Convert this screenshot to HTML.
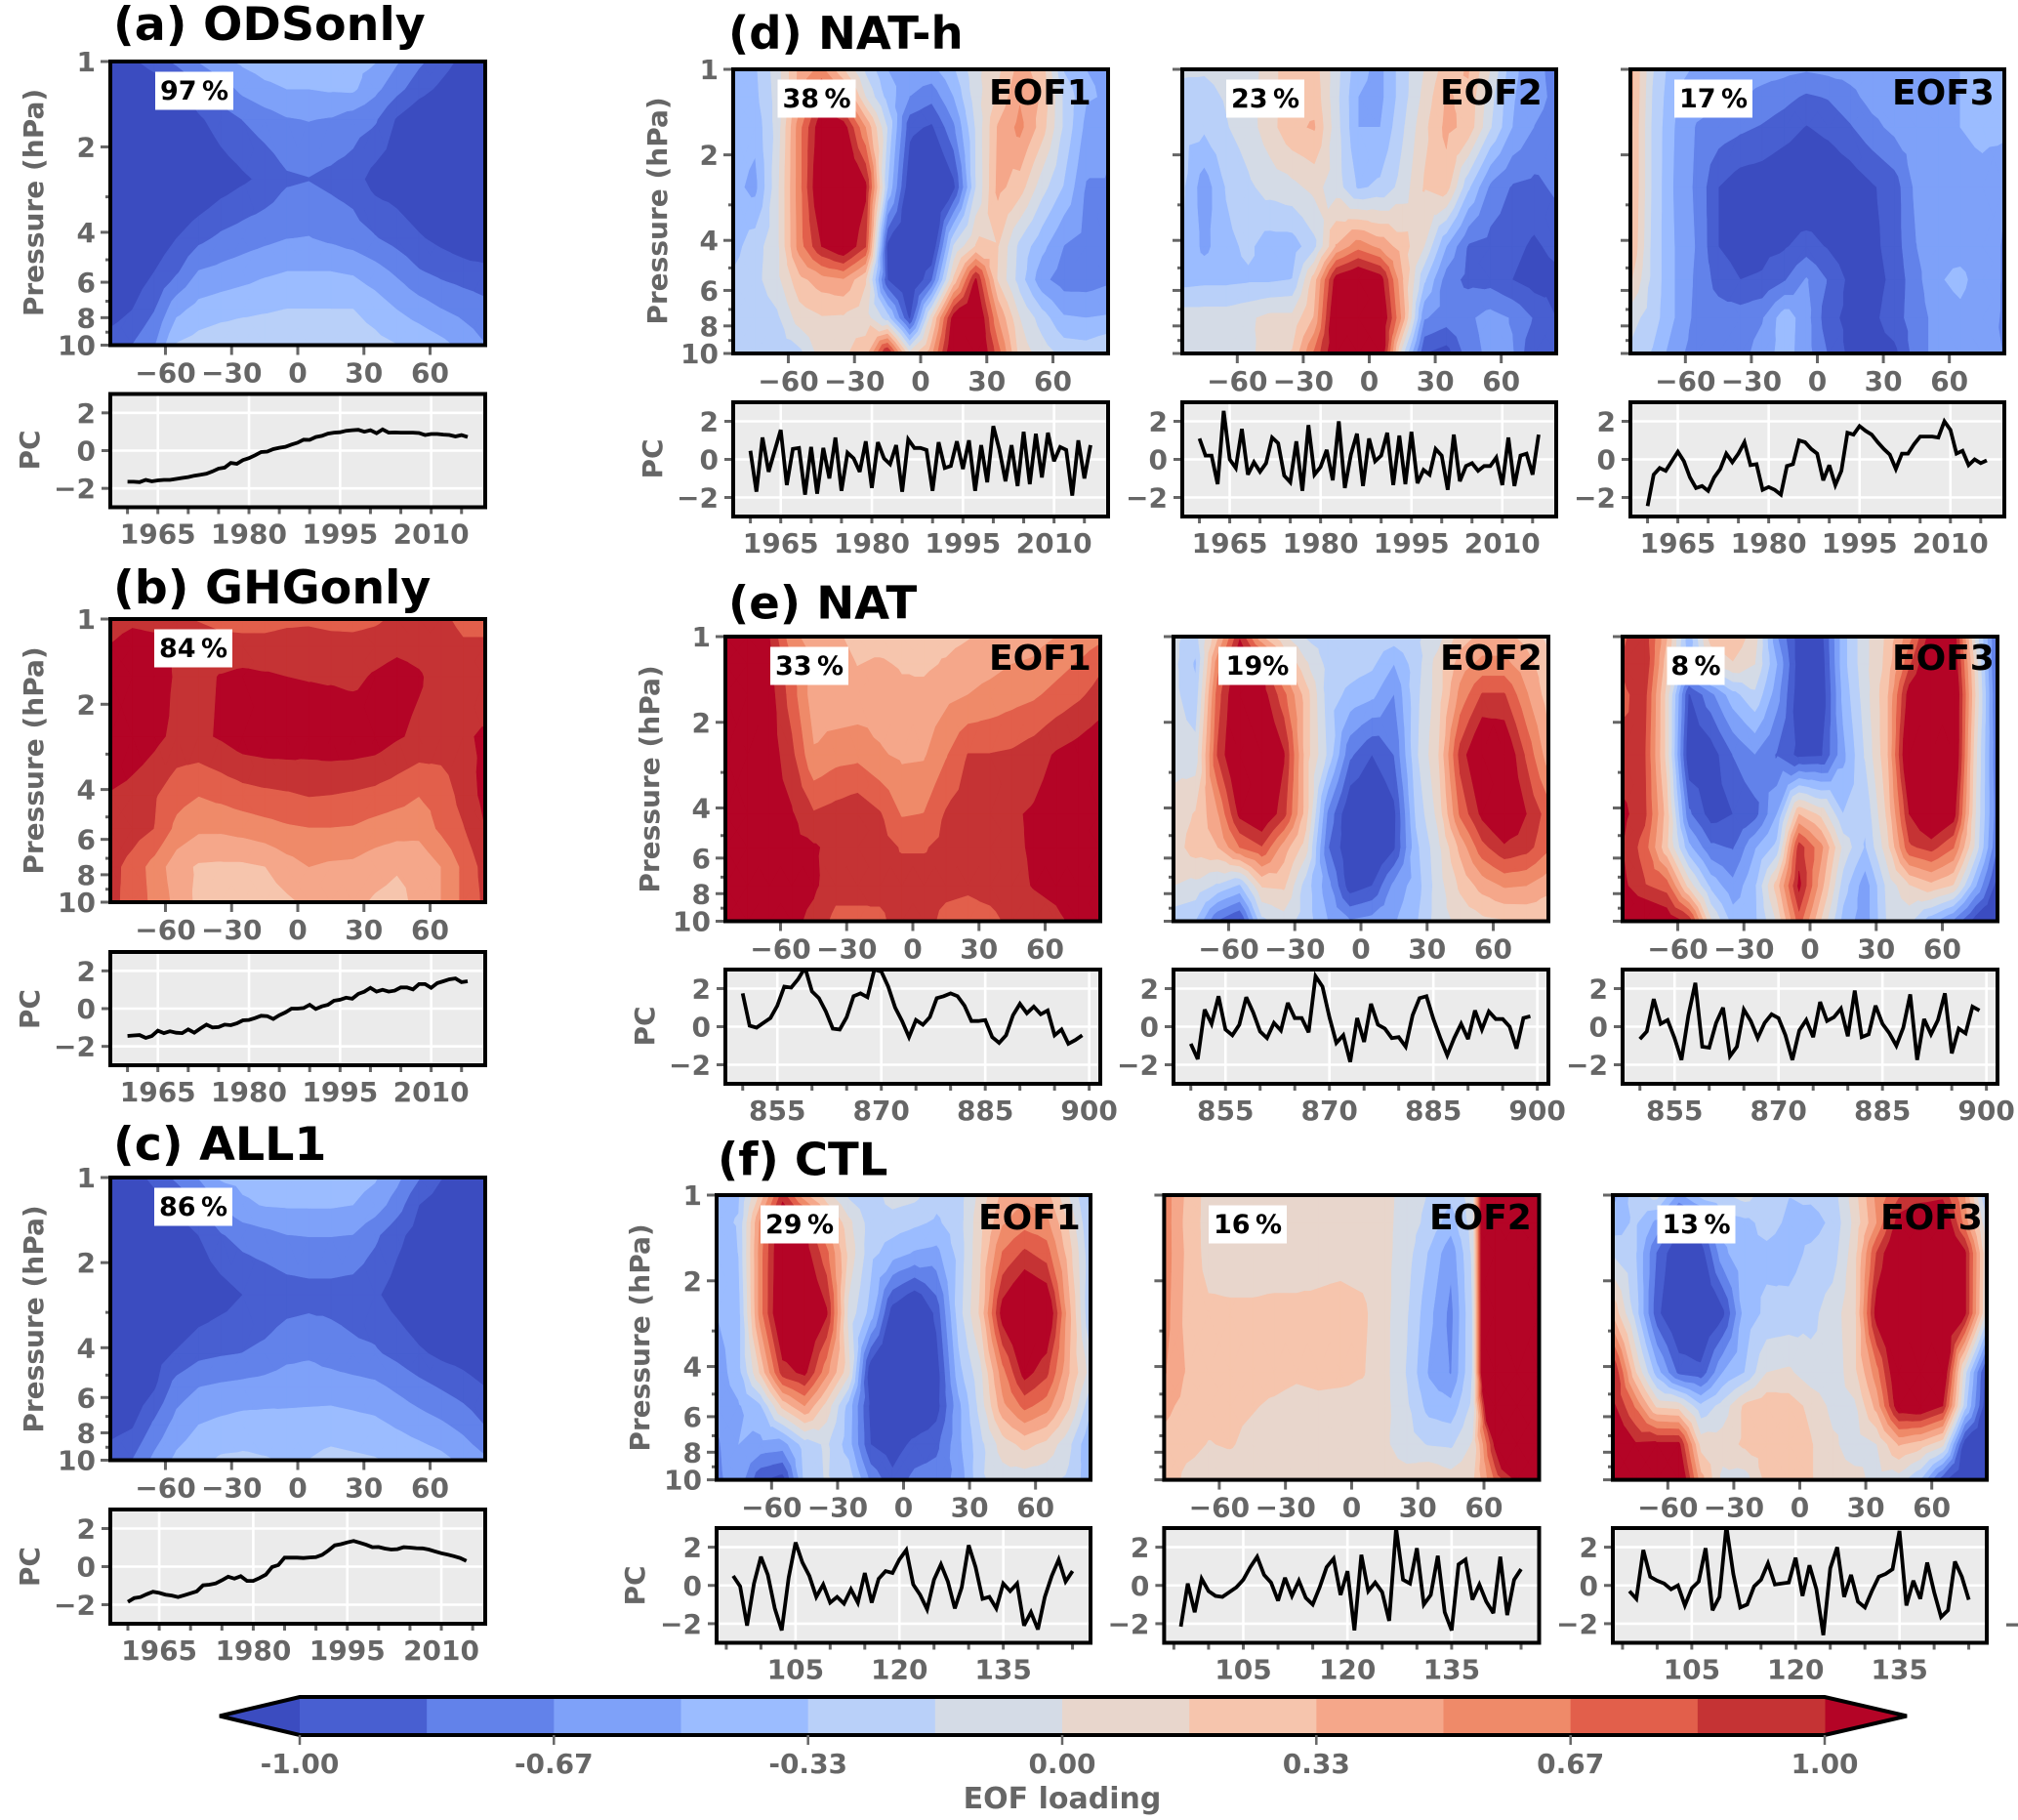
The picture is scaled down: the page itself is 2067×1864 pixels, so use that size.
<!DOCTYPE html>
<html lang="en">
<head>
<meta charset="utf-8">
<title>EOF loading panels</title>
<style>
html,body{margin:0;padding:0;background:#fff;}
svg{display:block;font-family:"DejaVu Sans","Liberation Sans",sans-serif;font-weight:bold;}
</style>
</head>
<body>
<svg id="figure" xmlns="http://www.w3.org/2000/svg" width="2067" height="1864" viewBox="0 0 2067 1864"></svg>
<script>
// ---- grid axes of all loading fields ----
const latGrid = [-85,-75,-65,-55,-45,-35,-25,-15,-5,5,15,25,35,45,55,65,75,85];
const pressureGrid = [1,1.25,1.6,2.6,4.2,5.5,7.5,10];
const latTicks = [-60,-30,0,30,60];
const pressureTicks = [1,2,4,6,8,10];
const pressureMinorTicks = [3,5,7,9];
const pcTicks = [-2,0,2];
const modernYearTicks = [1965,1980,1995,2010];
const natYearTicks = [855,870,885,900];
const ctlYearTicks = [105,120,135];
const cbarTickValues = [-1,-0.6667,-0.3333,0,0.3333,0.6667,1];
const cbarTickLabels = ['-1.00','-0.67','-0.33','0.00','0.33','0.67','1.00'];

// ---- EOF loadings in hundredths, rows = pressureGrid, columns = latGrid ----
const eofA = [
[-115,-103,-92,-80,-66,-54,-47,-42,-40,-40,-41,-45,-49,-65,-80,-92,-105,-118],
[-125,-120,-112,-102,-88,-76,-62,-54,-50,-50,-48,-47,-62,-78,-93,-104,-115,-125],
[-130,-130,-125,-118,-103,-92,-83,-75,-68,-66,-68,-75,-81,-102,-115,-122,-128,-130],
[-135,-135,-132,-128,-120,-110,-103,-96,-86,-84,-88,-92,-107,-110,-118,-125,-130,-132],
[-135,-125,-112,-100,-88,-80,-75,-71,-67,-66,-70,-75,-82,-90,-98,-105,-112,-120],
[-130,-112,-100,-86,-66,-62,-58,-53,-50,-50,-50,-52,-60,-70,-82,-88,-92,-94],
[-110,-100,-84,-55,-44,-40,-37,-35,-33,-33,-33,-33,-40,-50,-58,-66,-72,-78],
[-90,-83,-68,-32,-26,-22,-21,-21,-21,-22,-22,-24,-28,-33,-38,-45,-55,-66]];
const eofB = [
[90,95,92,88,82,78,76,76,79,80,78,77,80,87,90,86,80,80],
[101,110,108,97,94,90,90,90,92,92,90,90,92,96,94,90,85,85],
[112,115,112,97,95,101,104,102,100,99,98,96,102,107,102,92,88,86],
[125,115,105,95,96,102,110,112,112,110,112,112,110,102,96,94,97,103],
[98,92,85,73,67,71,76,79,81,84,83,81,78,73,67,72,90,105],
[100,92,83,62,53,53,56,60,64,66,66,65,60,57,56,70,82,100],
[90,76,60,40,31,30,30,33,43,50,47,46,40,35,37,50,70,90],
[88,77,62,45,29,25,24,24,30,37,37,38,31,28,38,50,70,87]];
const eofC = [
[-118,-108,-95,-80,-66,-48,-45,-43,-42,-42,-42,-43,-48,-62,-82,-99,-108,-120],
[-125,-120,-108,-98,-83,-67,-53,-49,-48,-48,-48,-50,-58,-75,-100,-110,-118,-125],
[-130,-128,-120,-110,-100,-85,-77,-72,-67,-66,-66,-67,-80,-95,-108,-118,-125,-130],
[-135,-135,-132,-125,-115,-108,-100,-97,-92,-90,-90,-92,-97,-108,-118,-125,-130,-133],
[-135,-122,-108,-98,-88,-85,-83,-79,-71,-69,-74,-79,-81,-88,-97,-104,-108,-115],
[-130,-115,-102,-76,-67,-64,-62,-60,-58,-58,-58,-60,-63,-70,-78,-85,-92,-100],
[-108,-102,-80,-60,-50,-46,-43,-43,-44,-43,-42,-44,-46,-52,-58,-64,-72,-84],
[-90,-83,-62,-46,-38,-31,-30,-32,-35,-33,-28,-30,-32,-36,-40,-45,-54,-64]];
const eofD1 = [
[-45,-36,-8,38,55,18,-20,-50,-55,-55,-36,-5,12,40,25,-35,-50,-52],
[-38,-38,-10,40,90,60,0,-40,-67,-78,-50,-8,20,48,30,-20,-48,-52],
[-40,-45,-10,60,115,110,50,-18,-95,-103,-70,-15,35,55,25,-20,-55,-64],
[-45,-55,-5,60,125,130,105,-33,-115,-135,-105,-17,38,25,-10,-35,-68,-68],
[-40,-24,-5,58,100,120,85,-105,-125,-120,-15,18,17,-22,-45,-67,-72,-68],
[-30,-22,-5,28,42,48,18,-100,-125,-85,20,103,15,-25,-62,-75,-75,-70],
[-28,-28,-20,8,15,14,8,-25,-103,10,110,130,50,0,-25,-48,-50,-48],
[-28,-28,-26,-22,8,14,25,105,5,45,125,130,75,10,-8,-22,-24,-15]];
const eofD2 = [
[-15,-15,-12,-10,10,28,25,-10,-45,-55,-25,0,25,35,0,-45,-62,-72],
[-20,-22,-15,-5,8,30,28,-12,-50,-55,-25,5,35,30,-10,-48,-62,-70],
[-28,-30,-18,-8,10,30,35,-10,-50,-50,-20,12,38,28,-15,-50,-67,-72],
[-30,-60,-32,-20,-10,-5,5,-8,-36,-30,-10,18,25,-30,-70,-85,-88,-80],
[-33,-55,-38,-30,-42,-42,-22,35,60,45,25,0,-50,-85,-90,-95,-103,-95],
[-40,-38,-38,-36,-36,-33,25,110,125,110,35,-30,-75,-88,-90,-100,-108,-105],
[-8,-8,-8,-3,5,5,35,125,130,125,45,-65,-75,-70,-60,-68,-85,-100],
[-10,-8,-8,-5,10,18,70,120,130,125,-10,-100,-108,-75,-62,-65,-100,-90]];
const eofD3 = [
[40,-15,-45,-52,-56,-58,-60,-62,-65,-62,-60,-56,-54,-52,-50,-50,-45,-42],
[40,-18,-48,-60,-62,-65,-72,-78,-86,-82,-72,-60,-56,-54,-52,-50,-45,-43],
[38,-20,-50,-68,-74,-80,-85,-92,-101,-95,-85,-72,-62,-56,-52,-50,-44,-45],
[38,-20,-52,-70,-100,-110,-112,-118,-122,-118,-112,-102,-92,-62,-60,-60,-58,-66],
[35,-22,-50,-68,-100,-108,-105,-102,-92,-102,-112,-105,-92,-67,-55,-58,-60,-68],
[20,-22,-50,-70,-90,-100,-98,-85,-65,-85,-105,-108,-95,-72,-52,-45,-60,-68],
[-10,-25,-50,-72,-75,-75,-68,-40,-60,-95,-105,-105,-90,-75,-60,-55,-62,-68],
[-20,-35,-60,-75,-75,-72,-60,-42,-60,-85,-105,-108,-105,-75,-60,-60,-65,-67]];
const eofE1 = [
[130,120,100,55,42,35,30,28,28,30,28,32,40,42,45,50,55,62],
[130,120,105,70,45,38,33,35,32,30,35,42,45,50,52,60,68,80],
[130,122,108,75,40,36,38,42,36,38,45,50,55,60,64,72,80,90],
[130,125,110,88,52,60,62,52,47,48,65,84,84,86,92,102,108,115],
[130,125,110,102,85,90,95,85,65,67,85,92,95,98,102,110,115,120],
[130,125,112,105,102,95,97,90,82,82,88,94,96,97,102,110,115,120],
[130,125,115,108,103,90,90,88,90,90,88,86,90,95,101,105,115,120],
[125,120,112,105,95,78,78,80,90,90,78,76,78,88,92,96,105,115]];
const eofE2 = [
[-12,-25,30,98,35,3,-18,-25,-18,-25,-25,-20,-8,25,38,38,28,12],
[-12,-36,60,120,105,38,3,-22,-25,-30,-50,-25,8,42,55,55,40,22],
[-12,-28,75,125,110,72,25,-25,-38,-46,-67,-22,8,55,85,85,52,25],
[-8,-10,85,130,130,102,25,-20,-80,-100,-83,-20,15,90,125,120,80,40],
[8,18,48,105,120,90,25,-70,-118,-125,-105,-30,5,70,105,125,100,75],
[8,25,33,67,82,42,8,-82,-115,-125,-103,-38,-5,38,78,97,90,70],
[0,-5,-20,-36,18,20,-25,-60,-110,-100,-62,-42,-8,20,40,52,50,38],
[-28,-34,-85,-105,-22,-8,-25,-50,-65,-60,-52,-36,-8,5,12,15,18,20]];
const eofE3 = [
[80,95,35,-45,25,30,8,-65,-110,-108,-40,-5,20,60,110,115,-5,-90],
[85,100,22,-40,0,15,0,-50,-110,-112,-40,-5,22,80,125,120,10,-95],
[80,90,10,-102,-72,-40,-20,-60,-112,-115,-45,-8,30,110,130,130,15,-90],
[88,85,10,-115,-110,-83,-67,-85,-105,-103,-55,-15,30,130,135,130,5,-85],
[105,88,25,-80,-108,-100,-90,-50,33,12,-33,-30,20,100,130,110,0,-80],
[100,75,20,-45,-80,-85,-52,-28,92,55,-5,-35,10,80,90,68,-5,-85],
[105,85,75,10,-38,-62,-36,25,105,40,-25,-60,-12,15,28,15,-48,-110],
[125,125,115,95,3,-40,-38,2,75,15,-40,-60,-15,-12,-45,-70,-110,-125]];
const eofF1 = [
[-38,-36,22,92,38,6,-20,-27,-8,-12,-28,-25,6,38,45,40,0,-40],
[-38,-32,55,125,105,45,5,-25,-25,-30,-36,-25,12,48,60,55,15,-35],
[-50,-33,60,125,110,72,12,-28,-42,-52,-55,-28,15,68,87,75,25,-30],
[-50,-40,60,130,130,103,-5,-40,-110,-130,-95,-25,20,110,135,125,40,-35],
[-60,-40,20,92,105,55,5,-115,-130,-130,-110,-40,-5,60,108,88,35,-8],
[-60,-52,-35,22,50,10,-40,-105,-125,-125,-108,-55,-10,45,72,58,20,-30],
[-70,-50,-55,-58,-25,-14,-42,-100,-110,-95,-88,-55,-22,8,22,12,-12,-50],
[-72,-55,-98,-108,-30,-15,-22,-70,-95,-78,-75,-62,-20,-8,-10,-12,-20,-45]];
const eofF2 = [
[60,30,10,8,8,8,8,8,8,8,6,-8,-18,-30,-8,300,320,320],
[60,28,10,8,10,10,10,10,10,8,5,-8,-22,-42,-8,300,320,320],
[60,30,10,10,10,10,10,12,12,10,5,-10,-35,-62,-12,300,320,320],
[58,28,20,19,19,20,20,20,22,20,5,-15,-45,-72,-15,300,320,320],
[52,32,28,25,23,23,20,22,22,18,5,-18,-52,-68,-15,300,320,320],
[38,28,22,20,18,14,10,12,10,10,5,-14,-40,-45,-12,200,240,240],
[28,22,16,18,12,8,8,8,10,16,3,-10,-18,-20,2,105,200,200],
[30,12,9,8,8,8,8,8,8,8,8,8,18,8,12,70,105,130]];
const eofF3 = [
[-55,-25,-10,-55,-28,-20,-10,-25,-33,-30,-25,10,55,80,90,95,50,-38],
[-45,-30,-55,-100,-85,-42,-38,-28,-36,-40,-30,5,50,110,125,125,60,-15],
[-18,-30,-85,-118,-110,-55,-36,-37,-40,-30,-25,10,85,130,135,135,105,0],
[30,-22,-95,-125,-125,-105,-42,-30,-28,-22,-8,12,110,135,135,135,105,-5],
[105,20,-42,-88,-95,-50,-33,0,3,-10,-12,12,60,125,135,125,-10,-110],
[105,65,12,8,-30,-10,20,28,25,12,-5,-3,40,115,120,100,-25,-115],
[125,103,105,105,10,8,20,24,32,18,3,-8,0,35,25,5,-110,-130],
[130,130,130,130,40,-5,-8,22,25,18,5,5,-5,-8,-35,-95,-125,-130]];

// ---- principal component series, one value per year ----
const pcA = [-1.65,-1.65,-1.67,-1.55,-1.63,-1.58,-1.55,-1.55,-1.5,-1.45,-1.4,-1.33,-1.28,-1.22,-1.1,-.95,-.9,-.65,-.7,-.5,-.4,-.25,-.08,-.05,.08,.15,.2,.32,.42,.58,.57,.72,.78,.9,.95,.97,1.05,1.08,1.1,1.0,1.08,.92,1.12,.95,.96,.95,.95,.95,.93,.82,.88,.88,.85,.83,.75,.82,.72];
const pcB = [-1.45,-1.42,-1.4,-1.55,-1.45,-1.17,-1.3,-1.2,-1.28,-1.3,-1.1,-1.28,-1.05,-.85,-1.0,-.98,-.85,-.88,-.78,-.62,-.6,-.5,-.38,-.4,-.55,-.35,-.2,0,0,.03,.2,-.02,.12,.2,.42,.47,.58,.52,.78,.9,1.1,.9,1.0,.9,.95,1.12,1.12,1.02,1.3,1.3,1.1,1.35,1.45,1.55,1.6,1.4,1.45];
const pcC = [-1.85,-1.65,-1.6,-1.45,-1.32,-1.38,-1.47,-1.52,-1.6,-1.5,-1.4,-1.3,-.98,-.95,-.88,-.72,-.53,-.63,-.5,-.75,-.75,-.6,-.42,-.02,.08,.47,.47,.47,.45,.48,.5,.62,.85,1.12,1.18,1.27,1.35,1.25,1.15,1.02,1.03,.95,.9,.92,1.02,1.0,.97,.96,.9,.8,.7,.63,.55,.45,.3];
const pcD1 = [.45,-1.7,1.15,-.65,.45,1.55,-1.35,.55,.6,-1.85,.65,-1.8,.6,-1.0,1.15,-1.65,.35,.05,-.65,.95,-1.5,.9,.05,-.25,.75,-1.7,1.05,.6,.6,.5,-1.65,.9,-.45,-.35,.95,-.5,1.0,-1.65,.75,-1.2,1.75,.5,-1.15,.75,-1.4,1.45,-1.3,1.35,-.95,1.4,-.1,.65,.5,-1.9,1.0,-1.0,.75];
const pcD2 = [1.1,.2,.2,-1.3,2.55,0,-.45,1.6,-.8,-.15,-.65,-.2,1.15,.85,-.85,-1.2,.95,-1.65,1.8,-.8,-.4,.5,-1.1,2.0,-1.5,.25,1.35,-1.4,1.1,-.1,.2,1.4,-1.35,1.25,-1.3,1.45,-1.25,-.55,-.8,.55,.2,-1.6,1.3,-1.15,-.35,-.2,-.6,-.35,-.35,.1,-1.35,1.15,-1.4,.2,.3,-.8,1.3];
const pcD3 = [-2.45,-.8,-.45,-.6,-.1,.4,-.1,-.95,-1.5,-1.4,-1.65,-.95,-.5,.3,-.15,.3,.9,-.3,-.25,-1.6,-1.45,-1.6,-1.85,-.35,-.25,1.0,.9,.55,.3,-1.1,-.3,-1.35,-.6,1.4,1.3,1.75,1.5,1.3,.9,.55,.25,-.5,.3,.3,.8,1.2,1.2,1.2,1.15,2.0,1.55,.3,.45,-.3,0,-.2,-.05];
const pcE1 = [1.75,.05,-.05,.2,.45,1.1,2.1,2.05,2.5,3.1,1.85,1.5,.8,-.1,-.15,.5,1.6,1.75,1.55,3.0,2.9,2.1,1.0,.3,-.55,.35,.1,.5,1.5,1.6,1.75,1.6,1.1,.3,.3,.35,-.55,-.85,-.45,.6,1.2,.7,1.05,.65,.85,-.45,-.15,-.9,-.7,-.45];
const pcE2 = [-.9,-1.7,.9,.15,1.6,-.15,-.45,.1,1.55,.75,-.25,-.6,.2,-.2,1.25,.45,.45,-.3,2.65,2.1,.5,-.85,-.45,-1.85,.45,-.8,1.2,.1,-.1,-.6,-.55,-1.05,.6,1.5,1.6,.4,-.6,-1.5,-.6,.15,-.65,.85,-.15,.8,.4,.4,0,-1.15,.45,.55];
const pcE3 = [-.65,-.25,1.45,.15,.35,-.6,-1.75,.6,2.3,-1.05,-1.1,.2,1.0,-1.55,-1.05,.9,.3,-.6,.2,.65,.45,-.45,-1.75,-.2,.35,-.55,1.3,.3,.5,.95,-.5,1.9,-.55,-.4,1.1,.15,-.35,-1.0,-.05,1.7,-1.75,.4,-.4,.35,1.75,-1.4,-.1,-.35,1.05,.85];
const pcF1 = [.5,-.05,-2.1,.1,1.5,.55,-1.2,-2.35,.4,2.25,1.2,.5,-.6,.05,-.9,-.6,-.95,-.2,-.9,.65,-.9,.35,.75,.65,1.35,1.85,.05,-.5,-1.25,.3,1.1,.2,-1.2,-.1,2.1,.95,-.7,-.6,-1.2,.1,-.3,.1,-2.1,-1.4,-2.3,-.6,.5,1.35,.2,.75];
const pcF2 = [-2.15,.1,-1.4,.35,-.3,-.55,-.6,-.35,-.1,.3,.95,1.5,.55,.15,-.8,.4,-.55,.25,-.65,-1.0,-.1,.95,1.4,-.5,.75,-2.35,1.6,-.3,.15,-.35,-1.85,3.0,.3,.1,1.95,-1.0,-.5,1.55,-1.4,-2.35,1.1,1.35,-.75,.05,-.85,-1.45,1.5,-1.55,.3,.85];
const pcF3 = [-.3,-.7,1.85,.45,.25,.1,-.2,0,-1.05,-.15,.2,1.95,-1.3,-.6,3.1,.6,-1.15,-1.0,-.05,.3,1.15,.05,.1,.15,1.45,-.55,1.05,-.2,-2.6,.9,2.0,-.6,.55,-.85,-1.15,-.3,.45,.6,.85,2.85,-1.05,.25,-.7,1.2,-.35,-1.65,-1.3,1.25,.45,-.75];

// ---- colour scale: 12 bands between -100 and 100, plus under/over ----
const bandColors = ['#3b4cc0','#485fd1','#6282ea','#7ea1f9','#9bbcff','#b9d0f9','#d4dbe6','#e8d6cc','#f6c5ad','#f5a78a','#ef8a69','#e25f4b','#c53334','#b40426'];
const levelCount = 13;

const GRAY = '#666666';
const TICK_FONT = 28;
const svg = document.getElementById('figure');
const NS = 'http://www.w3.org/2000/svg';
function add(tag, attrs, parent) {
  const el = document.createElementNS(NS, tag);
  for (const k in attrs) el.setAttribute(k, attrs[k]);
  (parent || svg).appendChild(el);
  return el;
}
function levelValue(i) { return -100 + i * 200 / (levelCount - 1); }

function clipAbove(poly, lev) {
  const out = [];
  for (let i = 0; i < poly.length; i++) {
    const a = poly[i], b = poly[(i + 1) % poly.length];
    const ain = a[2] >= lev, bin = b[2] >= lev;
    if (ain) out.push(a);
    if (ain !== bin) {
      const t = (lev - a[2]) / (b[2] - a[2]);
      out.push([a[0] + t * (b[0] - a[0]), a[1] + t * (b[1] - a[1]), lev]);
    }
  }
  return out;
}
function polyPath(poly) {
  return 'M' + poly.map(p => p[0].toFixed(1) + ' ' + p[1].toFixed(1)).join('L') + 'Z';
}

let clipCounter = 0;
function makeClip(x, y, w, h) {
  const id = 'clip' + (clipCounter++);
  const cp = add('clipPath', { id: id });
  add('rect', { x: x, y: y, width: w, height: h }, cp);
  return id;
}

function drawContours(field, xLat, yP, box, g) {
  const nodes = field.map((row, r) => row.map((v, c) => [xLat(latGrid[c]), yP(pressureGrid[r]), v]));
  const tris = [];
  for (let r = 0; r < nodes.length - 1; r++) {
    for (let c = 0; c < latGrid.length - 1; c++) {
      const a = nodes[r][c], b = nodes[r][c + 1], d = nodes[r + 1][c + 1], e = nodes[r + 1][c];
      const m = [(a[0] + d[0]) / 2, (a[1] + d[1]) / 2, (a[2] + b[2] + d[2] + e[2]) / 4];
      tris.push([a, b, m], [b, d, m], [d, e, m], [e, a, m]);
    }
  }
  const base = add('rect', { x: box.x0, y: box.y0, width: box.x1 - box.x0, height: box.y1 - box.y0, fill: bandColors[0] }, g);
  
  
  for (let i = 0; i < levelCount; i++) {
    const lev = levelValue(i);
    let d = '';
    for (const t of tris) {
      const p = clipAbove(t, lev);
      if (p.length > 2) d += polyPath(p);
    }
    if (!d) continue;
    const band = add('path', { d: d, fill: bandColors[i + 1], stroke: bandColors[i + 1], 'stroke-width': 0.5 }, g);
    
    
  }
}

function text(str, x, y, size, color, anchor, parent, rot) {
  const attrs = { x: x, y: y, 'font-size': size, fill: color, 'text-anchor': anchor || 'start' };
  if (rot) attrs.transform = 'rotate(-90 ' + x + ' ' + y + ')';
  const t = add('text', attrs, parent);
  t.textContent = str;
  return t;
}
function fmt(v) { return v < 0 ? '\u2212' + Math.abs(v) : String(v); }

function drawPanel(p) {
  const g = add('g', {});
  
  
  const box = { x0: p.x0, x1: p.x1, y0: p.my0, y1: p.my1 };
  const xLat = lat => p.x0 + (lat + 85) / 170 * (p.x1 - p.x0);
  const yP = pr => p.my0 + Math.log10(pr) * (p.my1 - p.my0);
  const clipId = makeClip(p.x0, p.my0, p.x1 - p.x0, p.my1 - p.my0);
  const cg = add('g', { 'clip-path': 'url(#' + clipId + ')' }, g);
  
  
  drawContours(p.field, xLat, yP, box, cg);

  // pressure axis
  pressureTicks.forEach(v => {
    const tick = add('line', { x1: p.x0 - 10, x2: p.x0, y1: yP(v), y2: yP(v), stroke: GRAY, 'stroke-width': 3 }, g);
    
    
    if (p.labelY) {
      const lbl = text(String(v), p.x0 - 15, yP(v) + 10, TICK_FONT, GRAY, 'end', g);
      
      
    }
  });
  pressureMinorTicks.forEach(v => {
    const tick = add('line', { x1: p.x0 - 5, x2: p.x0, y1: yP(v), y2: yP(v), stroke: GRAY, 'stroke-width': 3 }, g);
    
    
  });
  // latitude axis
  latTicks.forEach(v => {
    const tick = add('line', { x1: xLat(v), x2: xLat(v), y1: p.my1, y2: p.my1 + 10, stroke: GRAY, 'stroke-width': 3 }, g);
    
    
    const lbl = text(fmt(v), xLat(v), p.my1 + 38, TICK_FONT, GRAY, 'middle', g);
    
    
  });
  const spine = add('rect', { x: p.x0, y: p.my0, width: p.x1 - p.x0, height: p.my1 - p.my0, fill: 'none', stroke: '#000', 'stroke-width': 4 }, g);
  
  

  // variance box
  const bx = add('rect', { x: p.boxX, y: p.my0 + 10.5, width: p.boxW || 80, height: 39, fill: '#fff' }, g);
  
  
  const vt = text(p.pct, p.boxX + (p.boxW || 80) / 2, p.my0 + 39, 27, '#000', 'middle', g);
  
  

  if (p.eof) {
    const et = text(p.eof, p.eofX, p.eofY, 36, '#000', 'start', g);
    
    
  }

  // PC axes
  const yearX = y => p.x0 + (y - p.t0) / (p.t1 - p.t0) * (p.x1 - p.x0);
  const pcY = v => p.py0 + (3 - v) / 6 * (p.py1 - p.py0);
  const bg = add('rect', { x: p.x0, y: p.py0, width: p.x1 - p.x0, height: p.py1 - p.py0, fill: '#ebebeb' }, g);
  
  
  pcTicks.forEach(v => {
    const gl = add('line', { x1: p.x0, x2: p.x1, y1: pcY(v), y2: pcY(v), stroke: '#fff', 'stroke-width': 2.6 }, g);
    
    
    const tick = add('line', { x1: p.x0 - 9, x2: p.x0, y1: pcY(v), y2: pcY(v), stroke: GRAY, 'stroke-width': 3 }, g);
    
    
    const lbl = text(fmt(v), p.x0 - 15, pcY(v) + 10, TICK_FONT, GRAY, 'end', g);
    
    
  });
  p.yearTicks.forEach(v => {
    const gl = add('line', { x1: yearX(v), x2: yearX(v), y1: p.py0, y2: p.py1, stroke: '#fff', 'stroke-width': 2.6 }, g);
    
    
    const lbl = text(String(v), yearX(v), p.py1 + 37, TICK_FONT, GRAY, 'middle', g);
    
    
  });
  const firstTick = p.yearTicks[0] - 5 * Math.floor((p.yearTicks[0] - p.t0) / 5);
  for (let yr = firstTick; yr <= p.t1; yr += 5) {
    const tick = add('line', { x1: yearX(yr), x2: yearX(yr), y1: p.py1, y2: p.py1 + 7, stroke: GRAY, 'stroke-width': 3 }, g);
    
    
  }
  const pcClip = makeClip(p.x0, p.py0, p.x1 - p.x0, p.py1 - p.py0);
  const pts = p.pc.map((v, i) => yearX(p.start + i).toFixed(1) + ',' + pcY(v).toFixed(1)).join(' ');
  const line = add('polyline', { points: pts, fill: 'none', stroke: '#000', 'stroke-width': 3.8, 'stroke-linejoin': 'miter', 'stroke-miterlimit': 3, 'clip-path': 'url(#' + pcClip + ')' }, g);
  
  
  const pcFrame = add('rect', { x: p.x0, y: p.py0, width: p.x1 - p.x0, height: p.py1 - p.py0, fill: 'none', stroke: '#000', 'stroke-width': 4 }, g);
  
  
}

const panels = [
 {key:'a',x0:113,x1:497,my0:63,my1:353.5,py0:403.5,py1:519.5,field:eofA,pc:pcA,pct:'97\u2009%',boxX:159,labelY:1,t0:1957.17,t1:2018.9,start:1960,yearTicks:modernYearTicks},
 {key:'b',x0:113,x1:497,my0:634,my1:924,py0:975,py1:1091,field:eofB,pc:pcB,pct:'84\u2009%',boxX:158,labelY:1,t0:1957.17,t1:2018.9,start:1960,yearTicks:modernYearTicks},
 {key:'c',x0:113,x1:497,my0:1206,my1:1495.5,py0:1546,py1:1663,field:eofC,pc:pcC,pct:'86\u2009%',boxX:158,labelY:1,t0:1957.2,t1:2017,start:1960,yearTicks:modernYearTicks},
 {key:'d1',x0:751,x1:1135,my0:71,my1:362,py0:412,py1:529,field:eofD1,pc:pcD1,pct:'38\u2009%',boxX:796.5,labelY:1,eof:'EOF1',eofX:1013,eofY:107,t0:1957.17,t1:2018.9,start:1960,yearTicks:modernYearTicks},
 {key:'d2',x0:1211,x1:1594,my0:71,my1:362,py0:412,py1:529,field:eofD2,pc:pcD2,pct:'23\u2009%',boxX:1256,eof:'EOF2',eofX:1475,eofY:107,t0:1957.17,t1:2018.9,start:1960,yearTicks:modernYearTicks},
 {key:'d3',x0:1670,x1:2053,my0:71,my1:362,py0:412,py1:529,field:eofD3,pc:pcD3,pct:'17\u2009%',boxX:1715,eof:'EOF3',eofX:1938,eofY:107,t0:1957.17,t1:2018.9,start:1960,yearTicks:modernYearTicks},
 {key:'e1',x0:743,x1:1127,my0:652,my1:943.5,py0:993,py1:1110,field:eofE1,pc:pcE1,pct:'33\u2009%',boxX:789,labelY:1,eof:'EOF1',eofX:1013,eofY:686,t0:847.5,t1:901.6,start:850,yearTicks:natYearTicks},
 {key:'e2',x0:1202,x1:1586,my0:652,my1:943.5,py0:993,py1:1110,field:eofE2,pc:pcE2,pct:'19%',boxX:1248,eof:'EOF2',eofX:1475,eofY:686,t0:847.5,t1:901.6,start:850,yearTicks:natYearTicks},
 {key:'e3',x0:1662,x1:2046,my0:652,my1:943.5,py0:993,py1:1110,field:eofE3,pc:pcE3,pct:'8\u2009%',boxX:1707.5,boxW:59,eof:'EOF3',eofX:1938,eofY:686,t0:847.5,t1:901.6,start:850,yearTicks:natYearTicks},
 {key:'f1',x0:734,x1:1117,my0:1224,my1:1515.6,py0:1565,py1:1682.5,field:eofF1,pc:pcF1,pct:'29\u2009%',boxX:779,labelY:1,eof:'EOF1',eofX:1002,eofY:1259,t0:93.6,t1:147.6,start:96,yearTicks:ctlYearTicks},
 {key:'f2',x0:1192.4,x1:1576.5,my0:1224,my1:1515.6,py0:1565,py1:1682.5,field:eofF2,pc:pcF2,pct:'16\u2009%',boxX:1238,eof:'EOF2',eofX:1464,eofY:1259,t0:93.6,t1:147.6,start:96,yearTicks:ctlYearTicks},
 {key:'f3',x0:1652,x1:2035,my0:1224,my1:1515.6,py0:1565,py1:1682.5,field:eofF3,pc:pcF3,pct:'13\u2009%',boxX:1697.5,eof:'EOF3',eofX:1926,eofY:1259,t0:93.6,t1:147.6,start:96,yearTicks:ctlYearTicks}
];
panels.forEach(drawPanel);

// panel titles
[['(a) ODSonly',116,41,47.5],['(b) GHGonly',116,618,47.5],['(c) ALL1',116,1188,47.5],['(d) NAT-h',746,50,46.5],['(e) NAT',746,633.6,46.5],['(f) CTL',735,1203.6,46.5]].forEach(t => {
  const el = text(t[0], t[1], t[2], t[3], '#000', 'start');
  
  
});
// y-axis titles
[[44,207.5],[44,779],[44,1351],[683,216],[675,798],[665,1370]].forEach(t => {
  const el = text('Pressure (hPa)', t[0], t[1], 28, GRAY, 'middle', null, true);
  
  
});
[[40,461],[40,1033.6],[40,1604.6],[678,470],[670,1051],[660,1624]].forEach(t => {
  const el = text('PC', t[0], t[1], 28, GRAY, 'middle', null, true);
  
  
});
// clipped tick mark at the right edge
const stray = text('\u2212', 2052, 1673, TICK_FONT, GRAY, 'start');



// colorbar
(function () {
  const cb = add('g', {});
  
  
  const cbL = 307, cbR = 1869, cbT = 1738, cbB = 1777, cbM = 1757.5, tipL = 225, tipR = 1953;
  const cx = v => cbL + (v + 1) / 2 * (cbR - cbL);
  const left = add('polygon', { points: cbL + ',' + cbT + ' ' + tipL + ',' + cbM + ' ' + cbL + ',' + cbB, fill: bandColors[0] }, cb);
  
  
  const right = add('polygon', { points: cbR + ',' + cbT + ' ' + tipR + ',' + cbM + ' ' + cbR + ',' + cbB, fill: bandColors[13] }, cb);
  
  
  for (let i = 0; i < levelCount - 1; i++) {
    const a = cx(levelValue(i) / 100), b = cx(levelValue(i + 1) / 100);
    const seg = add('rect', { x: a, y: cbT, width: b - a + 0.5, height: cbB - cbT, fill: bandColors[i + 1] }, cb);
    
    
  }
  const outline = add('polygon', { points: [[cbL,cbT],[cbR,cbT],[tipR,cbM],[cbR,cbB],[cbL,cbB],[tipL,cbM]].map(q => q.join(',')).join(' '), fill: 'none', stroke: '#000', 'stroke-width': 4 }, cb);
  
  
  cbarTickValues.forEach((v, i) => {
    const tick = add('line', { x1: cx(v), x2: cx(v), y1: cbB, y2: cbB + 10, stroke: GRAY, 'stroke-width': 2.5 }, cb);
    
    
    const lbl = text(cbarTickLabels[i], cx(v), 1816, TICK_FONT, GRAY, 'middle', cb);
    
    
  });
  const title = text('EOF loading', 1088, 1852, 30, GRAY, 'middle', cb);
  
  
})();
</script>
</body>
</html>
